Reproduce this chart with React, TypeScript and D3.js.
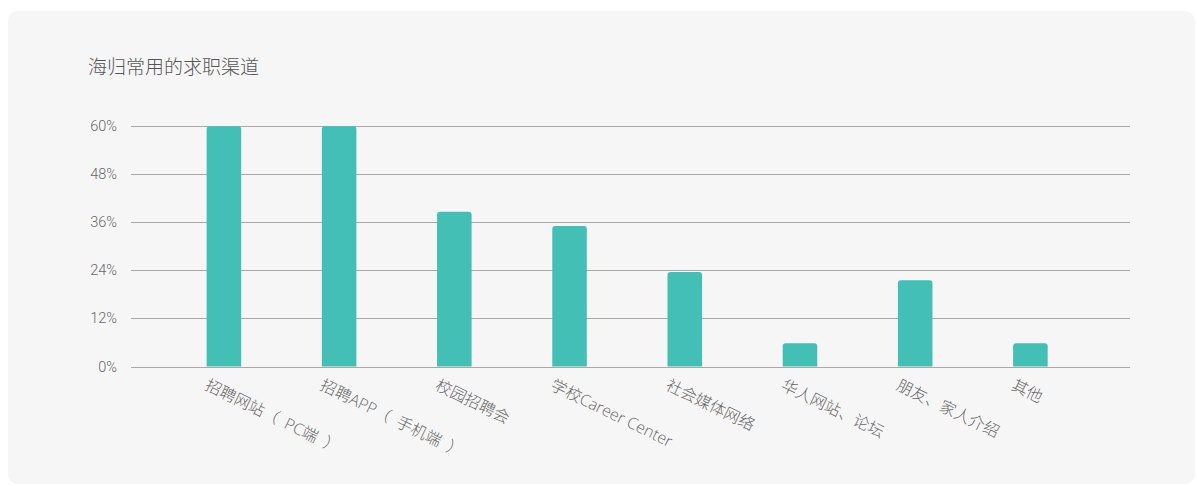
import React from "react";
import * as d3 from "d3";

const title = "海归常用的求职渠道";
const categories = [
  "招聘网站（PC端）",
  "招聘APP（手机端）",
  "校园招聘会",
  "学校Career Center",
  "社会媒体网络",
  "华人网站、论坛",
  "朋友、家人介绍",
  "其他",
];
const values = [59.8, 59.8, 38.5, 35.0, 23.5, 5.8, 21.5, 5.8];
const yTicks = [0, 12, 24, 36, 48, 60];

const W = 1197;
const H = 486;

function topRoundedBar(x: number, y: number, w: number, h: number, r: number) {
  const rr = Math.min(r, h / 2, w / 2);
  return `M${x},${y + h}V${y + rr}Q${x},${y} ${x + rr},${y}H${x + w - rr}Q${x + w},${y} ${x + w},${y + rr}V${y + h}Z`;
}

// the installed CJK font draws （） half-width; give them full-width spacing
function segments(label: string) {
  const parts: { s: string; dx: boolean }[] = [];
  let pendingGap = false;
  for (const ch of label) {
    if (ch === "（") {
      parts.push({ s: ch, dx: pendingGap });
      pendingGap = true;
    } else if (ch === "）") {
      parts.push({ s: ch, dx: true });
      pendingGap = false;
    } else {
      const last = parts[parts.length - 1];
      if (last && !pendingGap && last.s !== "（" && last.s !== "）") last.s += ch;
      else parts.push({ s: ch, dx: pendingGap });
      pendingGap = false;
    }
  }
  return parts;
}

export default function App() {
  const x = d3
    .scaleBand<string>()
    .domain(categories)
    .range([166.3, 1088])
    .paddingInner(0.7)
    .paddingOuter(0.35);
  const y = d3.scaleLinear().domain([0, 60]).range([366.5, 125.5]);
  const gridX0 = 131;
  const gridX1 = 1130;
  const cjk = "'Noto Sans CJK SC', 'Noto Sans', sans-serif";
  const lblFont = "'Open Sans', 'Noto Sans CJK SC', sans-serif";

  return (
    <svg
      width={W}
      height={H}
      style={{ position: "absolute", left: 0, top: 0, display: "block" }}
    >
      <rect x={0} y={0} width={W} height={H} fill="#ffffff" />
      <rect x={8} y={11} width={1187} height={473} rx={10} ry={10} fill="#f6f6f6" />
      <text
        x={88}
        y={74}
        fontFamily={cjk}
        fontSize={19}
        fontWeight={300}
        fill="#555"
      >
        {title}
      </text>
      {yTicks.map((t) => (
        <g key={t}>
          <line
            x1={gridX0}
            x2={gridX1}
            y1={Math.round(y(t)) + 0.5}
            y2={Math.round(y(t)) + 0.5}
            stroke="#a9a9a9"
            strokeWidth={1}
          />
          <text
            x={117}
            y={y(t)}
            dy="0.35em"
            textAnchor="end"
            fontFamily="Roboto, 'DejaVu Sans', sans-serif"
            fontSize={14.5}
            fontWeight={300}
            fill="#666"
          >
            {t}%
          </text>
        </g>
      ))}
      {categories.map((c, i) => {
        const bx = x(c)!;
        const bw = x.bandwidth();
        const top = y(values[i]);
        return (
          <path
            key={c}
            d={topRoundedBar(bx, top, bw, y(0) - top, 3)}
            fill="#43bfb5"
          />
        );
      })}
      {categories.map((c) => {
        const cx = x(c)! + x.bandwidth() / 2 - 20;
        const cy = 389;
        return (
          <text
            key={"l" + c}
            transform={`translate(${cx},${cy}) rotate(26)`}
            fontFamily={lblFont}
            fontSize={16}
            fontWeight={300}
            fill="#666"
          >
            {segments(c).map((p, k) => (
              <tspan key={k} dx={p.dx ? "0.5em" : undefined}>
                {p.s}
              </tspan>
            ))}
          </text>
        );
      })}
    </svg>
  );
}
